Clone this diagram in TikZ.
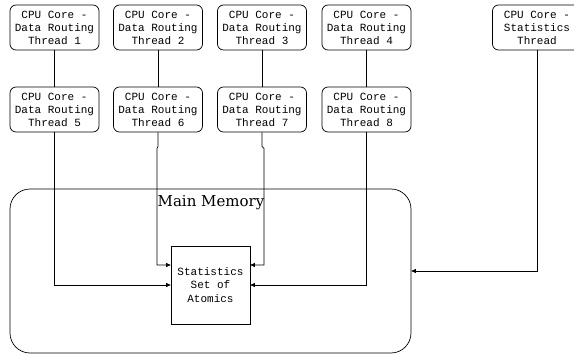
\documentclass[tikz,border=0pt]{standalone}
\usepackage{fontspec}
\setmonofont{Liberation Mono}
\newfontfamily\memfont{DejaVu Serif}
\usetikzlibrary{arrows.meta,calc,positioning}

\begin{document}
\begin{tikzpicture}[>={Triangle[length=4.5pt,width=4pt]}, line width=0.7pt]
  % styles for the boxes
  \tikzset{
    core/.style = {draw, rounded corners=6pt, minimum width=89pt, minimum height=45pt,
                   inner sep=0pt, align=center, font=\ttfamily\fontsize{11}{13}\selectfont},
    atom/.style = {draw, minimum width=79pt, minimum height=78pt, inner sep=0pt,
                   align=center, font=\ttfamily\fontsize{11}{13.5}\selectfont},
    mem/.style  = {draw, rounded corners=20pt, minimum width=401pt, minimum height=164pt, inner sep=0pt}
  }

  % pixel-like grid: x to the right, y downwards
  \begin{scope}[x=1pt,y=-1pt]
    \useasboundingbox (0,0) rectangle (574,356);

    % ========= Main memory and the atomics inside it =========
    \node[mem] (mem) at (210.5,271) {};
    \node[font=\memfont\fontsize{15}{18}\selectfont] (memlab) at (211,203) {Main Memory};
    \node[atom] (atoms) at (210.5,285) {Statistics\\Set of\\Atomics};

    % ========= CPU cores: top row =========
    \node[core] (t1) at (54.5,27.5)  {CPU Core -\\Data Routing\\Thread 1};
    \node[core] (t2) at (158,27.5)   {CPU Core -\\Data Routing\\Thread 2};
    \node[core] (t3) at (262,27.5)   {CPU Core -\\Data Routing\\Thread 3};
    \node[core] (t4) at (366.5,27.5) {CPU Core -\\Data Routing\\Thread 4};
    \node[core] (st) at (537,27.5)   {CPU Core -\\Statistics\\Thread};

    % ========= CPU cores: second row =========
    \node[core] (t5) at (54.5,109.5)  {CPU Core -\\Data Routing\\Thread 5};
    \node[core] (t6) at (158,109.5)   {CPU Core -\\Data Routing\\Thread 6};
    \node[core] (t7) at (262,109.5)   {CPU Core -\\Data Routing\\Thread 7};
    \node[core] (t8) at (366.5,109.5) {CPU Core -\\Data Routing\\Thread 8};

    % links between the rows
    \draw (t1) -- (t5);
    \draw (t2) -- (t6);
    \draw (t3) -- (t7);
    \draw (t4) -- (t8);

    % links into the atomics
    \draw[->] (t5.south) |- (atoms.west);
    \draw[->] (t6.south) -- ++(0,14) -- ++(-1,2) |- ([yshift=20pt]atoms.west);
    \draw[->] (t7.south) -- ++(0,14) -- ++(2,2) |- ([yshift=20pt]atoms.east);
    \draw[->] (t8.south) |- (atoms.east);

    % statistics thread into main memory
    \draw[->] (st.south) |- (mem.east);
  \end{scope}
\end{tikzpicture}
\end{document}
